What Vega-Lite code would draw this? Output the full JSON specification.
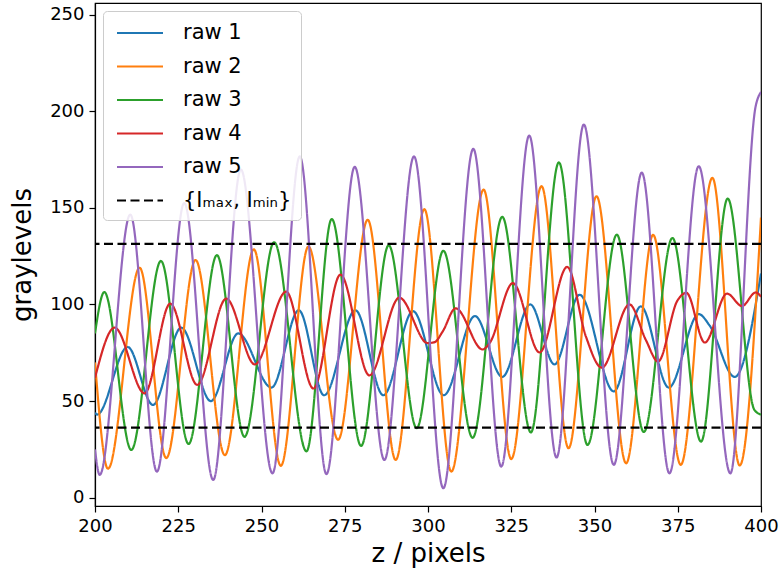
{
  "$schema": "https://vega.github.io/schema/vega-lite/v6.json",
  "width": 666,
  "height": 503,
  "autosize": {"type": "none"},
  "padding": {"left": 95, "top": 3, "right": 22, "bottom": 67},
  "background": "white",
  "config": {
    "font": "DejaVu Sans",
    "view": {"stroke": "black", "strokeWidth": 1.2},
    "axis": {
      "grid": false,
      "domainColor": "black",
      "domainWidth": 1.2,
      "tickColor": "black",
      "tickWidth": 1.2,
      "tickSize": 6,
      "labelFlush": false,
      "labelOverlap": false,
      "labelFont": "DejaVu Sans",
      "labelFontSize": 18,
      "labelColor": "black",
      "labelPadding": 5,
      "titleFont": "DejaVu Sans",
      "titleFontSize": 26,
      "titleFontWeight": "normal",
      "titleColor": "black"
    }
  },
  "datasets": {
    "curves": [
      {"z": 200, "v": 44, "s": "raw 1"}, {"z": 200.6, "v": 43, "s": "raw 1"}, {"z": 209.8, "v": 78, "s": "raw 1"}, {"z": 217.4, "v": 48, "s": "raw 1"}, {"z": 225.9, "v": 88, "s": "raw 1"}, {"z": 234.8, "v": 50, "s": "raw 1"}, {"z": 243, "v": 85, "s": "raw 1"}, {"z": 253, "v": 57, "s": "raw 1"}, {"z": 261.2, "v": 97, "s": "raw 1"}, {"z": 268.8, "v": 53, "s": "raw 1"}, {"z": 278.2, "v": 97, "s": "raw 1"}, {"z": 286.6, "v": 53, "s": "raw 1"}, {"z": 295.5, "v": 96.5, "s": "raw 1"}, {"z": 304.7, "v": 53, "s": "raw 1"}, {"z": 314.1, "v": 94, "s": "raw 1"}, {"z": 322.3, "v": 62.5, "s": "raw 1"}, {"z": 330.7, "v": 100, "s": "raw 1"}, {"z": 338, "v": 69, "s": "raw 1"}, {"z": 345.5, "v": 105, "s": "raw 1"}, {"z": 355.8, "v": 55, "s": "raw 1"}, {"z": 363.9, "v": 99, "s": "raw 1"}, {"z": 372.3, "v": 57, "s": "raw 1"}, {"z": 381.3, "v": 95, "s": "raw 1"}, {"z": 384.6, "v": 89, "s": "raw 1"}, {"z": 392.1, "v": 62.5, "s": "raw 1"}, {"z": 400, "v": 116, "s": "raw 1"},
      {"z": 200, "v": 70, "s": "raw 2"}, {"z": 203.9, "v": 15, "s": "raw 2"}, {"z": 213.4, "v": 119, "s": "raw 2"}, {"z": 221.4, "v": 20.5, "s": "raw 2"}, {"z": 230.2, "v": 123, "s": "raw 2"}, {"z": 239, "v": 22, "s": "raw 2"}, {"z": 247.7, "v": 128.5, "s": "raw 2"}, {"z": 255.8, "v": 16.5, "s": "raw 2"}, {"z": 264.1, "v": 130, "s": "raw 2"}, {"z": 273, "v": 30, "s": "raw 2"}, {"z": 281.9, "v": 143.8, "s": "raw 2"}, {"z": 290.3, "v": 19.5, "s": "raw 2"}, {"z": 298.9, "v": 149.3, "s": "raw 2"}, {"z": 307, "v": 13.5, "s": "raw 2"}, {"z": 316.7, "v": 159.4, "s": "raw 2"}, {"z": 325, "v": 20, "s": "raw 2"}, {"z": 334.1, "v": 161.2, "s": "raw 2"}, {"z": 342.2, "v": 25.6, "s": "raw 2"}, {"z": 350.6, "v": 156, "s": "raw 2"}, {"z": 359.5, "v": 17.8, "s": "raw 2"}, {"z": 367.6, "v": 136, "s": "raw 2"}, {"z": 375.9, "v": 17, "s": "raw 2"}, {"z": 385.4, "v": 165.5, "s": "raw 2"}, {"z": 393.6, "v": 16.7, "s": "raw 2"}, {"z": 400, "v": 145, "s": "raw 2"},
      {"z": 200, "v": 85, "s": "raw 3"}, {"z": 202.8, "v": 106.4, "s": "raw 3"}, {"z": 210.9, "v": 24.7, "s": "raw 3"}, {"z": 219.8, "v": 122.5, "s": "raw 3"}, {"z": 228.1, "v": 27.8, "s": "raw 3"}, {"z": 236.6, "v": 125.5, "s": "raw 3"}, {"z": 244.9, "v": 31.5, "s": "raw 3"}, {"z": 253.8, "v": 132.2, "s": "raw 3"}, {"z": 263.5, "v": 24, "s": "raw 3"}, {"z": 271.1, "v": 144.2, "s": "raw 3"}, {"z": 279.9, "v": 26.8, "s": "raw 3"}, {"z": 288.2, "v": 130.6, "s": "raw 3"}, {"z": 296.6, "v": 36, "s": "raw 3"}, {"z": 304.6, "v": 127.8, "s": "raw 3"}, {"z": 313.4, "v": 31, "s": "raw 3"}, {"z": 322.3, "v": 145.3, "s": "raw 3"}, {"z": 330.9, "v": 33.8, "s": "raw 3"}, {"z": 339.3, "v": 173.5, "s": "raw 3"}, {"z": 347.9, "v": 27.3, "s": "raw 3"}, {"z": 356.7, "v": 136.1, "s": "raw 3"}, {"z": 364.8, "v": 34, "s": "raw 3"}, {"z": 373.4, "v": 134.4, "s": "raw 3"}, {"z": 382, "v": 29, "s": "raw 3"}, {"z": 390, "v": 154.8, "s": "raw 3"}, {"z": 398, "v": 45.5, "s": "raw 3"}, {"z": 400, "v": 43, "s": "raw 3"},
      {"z": 200, "v": 62, "s": "raw 4"}, {"z": 205.9, "v": 88, "s": "raw 4"}, {"z": 214.9, "v": 54, "s": "raw 4"}, {"z": 222.6, "v": 100.4, "s": "raw 4"}, {"z": 230.7, "v": 58.4, "s": "raw 4"}, {"z": 239.4, "v": 103, "s": "raw 4"}, {"z": 248, "v": 69, "s": "raw 4"}, {"z": 257.4, "v": 106.6, "s": "raw 4"}, {"z": 265.6, "v": 56.5, "s": "raw 4"}, {"z": 273.7, "v": 115.4, "s": "raw 4"}, {"z": 282.4, "v": 63.3, "s": "raw 4"}, {"z": 291.4, "v": 103.5, "s": "raw 4"}, {"z": 299.9, "v": 80, "s": "raw 4"}, {"z": 302, "v": 80.5, "s": "raw 4"}, {"z": 304.4, "v": 86, "s": "raw 4"}, {"z": 308.3, "v": 98, "s": "raw 4"}, {"z": 316.4, "v": 76.7, "s": "raw 4"}, {"z": 318.5, "v": 80, "s": "raw 4"}, {"z": 325.5, "v": 111, "s": "raw 4"}, {"z": 333.5, "v": 75.2, "s": "raw 4"}, {"z": 341.8, "v": 119.4, "s": "raw 4"}, {"z": 347.4, "v": 83.5, "s": "raw 4"}, {"z": 352.2, "v": 67.3, "s": "raw 4"}, {"z": 360.5, "v": 100, "s": "raw 4"}, {"z": 365.4, "v": 81.7, "s": "raw 4"}, {"z": 369.1, "v": 70.5, "s": "raw 4"}, {"z": 374.9, "v": 102, "s": "raw 4"}, {"z": 377.6, "v": 106, "s": "raw 4"}, {"z": 383.1, "v": 80.3, "s": "raw 4"}, {"z": 389.8, "v": 105.6, "s": "raw 4"}, {"z": 394.3, "v": 99.2, "s": "raw 4"}, {"z": 398.4, "v": 106.2, "s": "raw 4"}, {"z": 400, "v": 104, "s": "raw 4"},
      {"z": 200, "v": 25, "s": "raw 5"}, {"z": 201.4, "v": 11.8, "s": "raw 5"}, {"z": 210.6, "v": 146.5, "s": "raw 5"}, {"z": 218.6, "v": 13.5, "s": "raw 5"}, {"z": 226.8, "v": 152.5, "s": "raw 5"}, {"z": 235.5, "v": 9.2, "s": "raw 5"}, {"z": 243.8, "v": 169.8, "s": "raw 5"}, {"z": 253.3, "v": 12.6, "s": "raw 5"}, {"z": 261.5, "v": 176.6, "s": "raw 5"}, {"z": 269.5, "v": 12.2, "s": "raw 5"}, {"z": 278, "v": 171.2, "s": "raw 5"}, {"z": 286.9, "v": 19.5, "s": "raw 5"}, {"z": 295.8, "v": 176.6, "s": "raw 5"}, {"z": 304.6, "v": 4.9, "s": "raw 5"}, {"z": 313.6, "v": 180.5, "s": "raw 5"}, {"z": 322, "v": 16.1, "s": "raw 5"}, {"z": 330.4, "v": 187.4, "s": "raw 5"}, {"z": 338.6, "v": 20.8, "s": "raw 5"}, {"z": 346.8, "v": 193.1, "s": "raw 5"}, {"z": 355.8, "v": 17, "s": "raw 5"}, {"z": 364.2, "v": 168.2, "s": "raw 5"}, {"z": 372.5, "v": 12.6, "s": "raw 5"}, {"z": 381.3, "v": 171.5, "s": "raw 5"}, {"z": 390.8, "v": 12.6, "s": "raw 5"}, {"z": 398.4, "v": 202.6, "s": "raw 5"}, {"z": 400, "v": 210, "s": "raw 5"}
    ],
    "levels": [
      {"v": 131.3, "s": "{Iₘₐₓ, Iₘᵢₙ}"},
      {"v": 36.3, "s": "{Iₘₐₓ, Iₘᵢₙ}"}
    ]
  },
  "layer": [
    {
      "data": {"name": "curves"},
      "mark": {"type": "line", "interpolate": "monotone", "strokeWidth": 2.2, "clip": true},
      "encoding": {
        "x": {"field": "z", "type": "quantitative", "scale": {"domain": [200, 400], "nice": false, "zero": false}, "axis": {"title": "z / pixels", "values": [200, 225, 250, 275, 300, 325, 350, 375, 400], "titlePadding": 5}},
        "y": {"field": "v", "type": "quantitative", "scale": {"domain": [-4.3, 256], "nice": false, "zero": false}, "axis": {"title": "graylevels", "values": [0, 50, 100, 150, 200, 250], "titlePadding": 14}},
        "color": {
          "field": "s", "type": "nominal",
          "scale": {"domain": ["raw 1", "raw 2", "raw 3", "raw 4", "raw 5", "{Iₘₐₓ, Iₘᵢₙ}"], "range": ["#1f77b4", "#ff7f0e", "#2ca02c", "#d62728", "#9467bd", "#000000"]},
          "legend": {
            "title": null,
            "orient": "top-left",
            "offset": 8,
            "symbolType": "M-2,0H2",
            "symbolSize": 529,
            "symbolOffset": 15,
            "symbolFillColor": "transparent",
            "symbolStrokeWidth": 2.2,
            "labelFont": "DejaVu Sans",
            "labelFontSize": 21,
            "labelColor": "black",
            "labelOffset": 30,
            "rowPadding": 10.5,
            "padding": 9,
            "fillColor": "rgba(255,255,255,0.85)",
            "strokeColor": "#cccccc",
            "cornerRadius": 4
          }
        },
        "strokeDash": {
          "field": "s", "type": "nominal",
          "scale": {"domain": ["raw 1", "raw 2", "raw 3", "raw 4", "raw 5", "{Iₘₐₓ, Iₘᵢₙ}"], "range": [[1, 0], [1, 0], [1, 0], [1, 0], [1, 0], [9, 4.5]]},
          "legend": null
        }
      }
    },
    {
      "data": {"name": "levels"},
      "mark": {"type": "rule", "strokeWidth": 2.2},
      "encoding": {
        "y": {"field": "v", "type": "quantitative"},
        "color": {"field": "s", "type": "nominal"},
        "strokeDash": {"field": "s", "type": "nominal"}
      }
    }
  ]
}
